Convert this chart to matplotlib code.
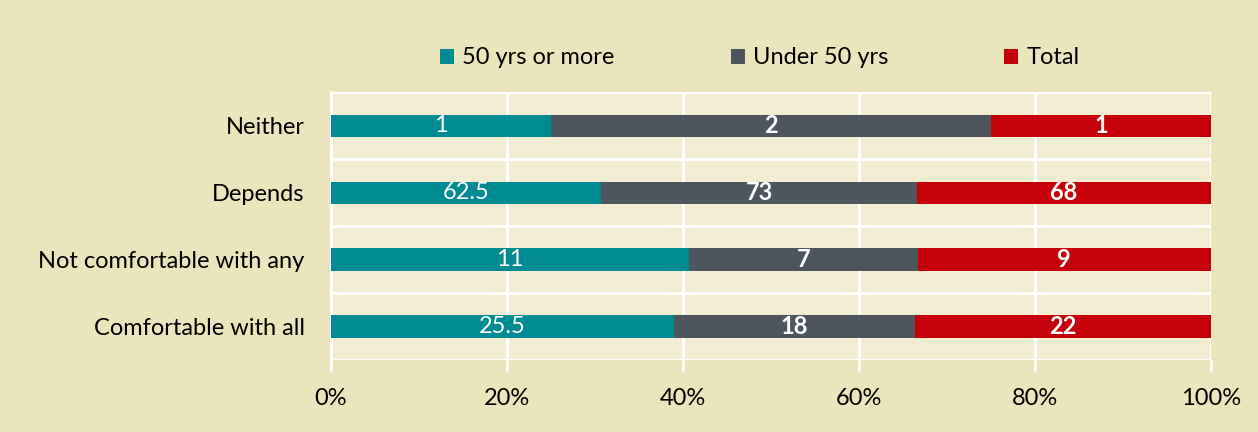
import numpy as np
import matplotlib.pyplot as plt
from matplotlib.patches import Patch

plt.rcParams['font.family'] = ['Lato', 'DejaVu Sans']

categories = ['Comfortable with all', 'Not comfortable with any', 'Depends', 'Neither']
over50 = [25.5, 11, 62.5, 1]
under50 = [18, 7, 73, 2]
total = [22, 9, 68, 1]
series_names = ['50 yrs or more', 'Under 50 yrs', 'Total']
colors = ['#008A91', '#4D555E', '#C5000B']
fig_bg = '#EBE5BE'
ax_bg = '#F2EDD2'
fs = 17

data = np.array([over50, under50, total], dtype=float)
share = data / data.sum(axis=0) * 100

fig = plt.figure(figsize=(12.58, 4.32), dpi=100)
fig.patch.set_facecolor(fig_bg)
ax = fig.add_axes([0.2631, 0.1667, 0.6995, 0.62])
ax.set_facecolor(ax_bg)

y = np.arange(len(categories))
left = np.zeros(len(categories))
for i in range(3):
    ax.barh(y, share[i], left=left, height=0.33, color=colors[i], zorder=3)
    for j in range(len(categories)):
        v = data[i, j]
        ax.text(left[j] + share[i, j] / 2, y[j], '%g' % v, ha='center', va='center',
                color='white', fontsize=fs,
                fontweight='normal' if i == 0 else 'bold', zorder=4)
    left += share[i]

ax.set_xlim(0, 100)
ax.set_ylim(-0.5, len(categories) - 0.5)
ax.set_xticks(np.arange(0, 101, 20))
ax.set_xticklabels(['%d%%' % t for t in range(0, 101, 20)], fontsize=fs)
ax.set_yticks(y)
ax.set_yticklabels(categories, fontsize=fs)
ax.set_yticks(np.arange(-0.5, len(categories)), minor=True)
ax.tick_params(axis='y', which='both', length=0, pad=19)
ax.tick_params(axis='x', length=8, width=2, color='white', pad=12, direction='out')
ax.grid(axis='x', color='white', linewidth=2.2, zorder=1)
ax.grid(axis='y', which='minor', color='white', linewidth=2.2, zorder=1)
for s in ['top', 'right', 'bottom']:
    ax.spines[s].set_visible(False)
ax.spines['left'].set_color('white')
ax.spines['left'].set_linewidth(2.2)

handles = [Patch(facecolor=c, label=n) for c, n in zip(colors, series_names)]
fig.legend(handles=handles, loc='center', bbox_to_anchor=(0.604, 0.866), ncol=3,
           frameon=False, fontsize=fs, handlelength=0.6, handleheight=0.6,
           handletextpad=0.35, columnspacing=4.9)

fig.savefig('out.png', dpi=100, facecolor=fig_bg)
